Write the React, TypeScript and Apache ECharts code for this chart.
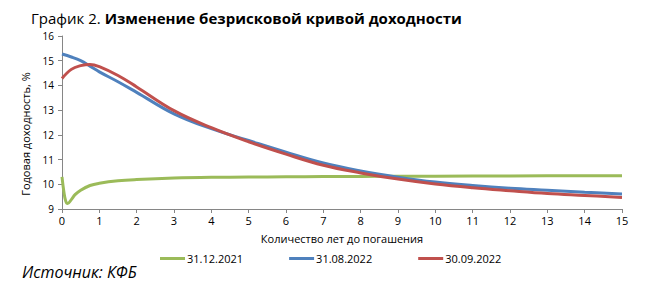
import React, { useEffect, useRef } from "react";
import * as echarts from "echarts";

const titleNormal = "График 2. ";
const titleBold = "Изменение безрисковой кривой доходности";
const sourceText = "Источник: КФБ";
const xAxisName = "Количество лет до погашения";
const yAxisName = "Годовая доходность, %";

const seriesNames = ["31.12.2021", "31.08.2022", "30.09.2022"];
const seriesColors = ["#9BBB59", "#4F81BD", "#C0504D"];

const tenors2021 = [0, 0.05, 0.1, 0.15, 0.25, 0.35, 0.5, 0.75, 1, 1.5, 2, 3, 4, 5, 6, 7, 8, 9, 10, 12, 15];
const yields2021 = [10.3, 9.7, 9.32, 9.22, 9.38, 9.58, 9.76, 9.95, 10.04, 10.14, 10.19, 10.25, 10.28, 10.29, 10.3, 10.31, 10.32, 10.33, 10.33, 10.34, 10.35];

const tenorsAug = [0, 0.25, 0.5, 0.75, 1, 1.5, 2, 3, 4, 5, 6, 7, 8, 9, 10, 11, 12, 13, 14, 15];
const yieldsAug = [15.27, 15.15, 15.0, 14.78, 14.55, 14.15, 13.72, 12.85, 12.25, 11.77, 11.3, 10.86, 10.54, 10.29, 10.09, 9.95, 9.84, 9.76, 9.68, 9.61];

const tenorsSep = [0, 0.25, 0.5, 0.75, 1, 1.5, 2, 3, 4, 5, 6, 7, 8, 9, 10, 11, 12, 13, 14, 15];
const yieldsSep = [14.28, 14.65, 14.8, 14.85, 14.76, 14.4, 13.94, 12.98, 12.29, 11.72, 11.22, 10.77, 10.46, 10.21, 10.01, 9.86, 9.74, 9.63, 9.55, 9.47];

const xTicks = [0, 15, 1];
const yTicks = [9, 16, 1];

function pairs(xs: number[], ys: number[]) {
  return xs.map((x, i) => [x, ys[i]]);
}

export default function App() {
  const ref = useRef<HTMLDivElement>(null);
  useEffect(() => {
    if (!ref.current) return;
    const chart = echarts.init(ref.current, null, { renderer: "svg" });
    const font = "'Open Sans', sans-serif";
    const datasets = [
      pairs(tenors2021, yields2021),
      pairs(tenorsAug, yieldsAug),
      pairs(tenorsSep, yieldsSep),
    ];
    chart.setOption({
      animation: false,
      backgroundColor: "#fff",
      textStyle: { fontFamily: font },
      title: {
        left: 26,
        top: 5,
        text: `{a|${titleNormal}}{b|${titleBold}}`,
        textStyle: {
          rich: {
            a: { fontSize: 15, fontFamily: font, fontWeight: "normal", color: "#000" },
            b: { fontSize: 15, fontFamily: font, fontWeight: "bold", color: "#000" },
          },
        },
      },
      graphic: [
        {
          type: "text",
          left: 22,
          top: 264,
          style: { text: sourceText, fontSize: 16, fontStyle: "italic", fontFamily: font, fill: "#000" },
        },
        {
          type: "text",
          x: 25,
          y: 134,
          rotation: Math.PI / 2,
          style: {
            text: yAxisName,
            fontSize: 11,
            fontFamily: font,
            fill: "#000",
            align: "center",
            verticalAlign: "middle",
          },
        },
      ],
      legend: {
        top: 248,
        left: 155,
        itemGap: 46,
        itemWidth: 25,
        itemHeight: 3,
        icon: "rect",
        textStyle: { fontSize: 11, color: "#000", fontFamily: font, padding: [0, 0, 0, -3] },
        data: seriesNames,
      },
      grid: { left: 62, right: 23, top: 36, bottom: 83 },
      xAxis: {
        type: "value",
        min: xTicks[0],
        max: xTicks[1],
        interval: xTicks[2],
        name: xAxisName,
        nameLocation: "middle",
        nameGap: 24,
        nameTextStyle: { fontSize: 11, color: "#000", fontFamily: font },
        axisLine: { lineStyle: { color: "#868686", width: 1 } },
        axisTick: { show: true, length: 4, lineStyle: { color: "#868686" } },
        axisLabel: { fontSize: 11, color: "#000", margin: 6, fontFamily: font },
        splitLine: { show: false },
      },
      yAxis: {
        type: "value",
        min: yTicks[0],
        max: yTicks[1],
        interval: yTicks[2],
        axisLine: { show: true, lineStyle: { color: "#868686", width: 1 } },
        axisTick: { show: true, length: 4, lineStyle: { color: "#868686" } },
        axisLabel: { fontSize: 10, color: "#000", margin: 8, fontFamily: font },
        splitLine: { show: false },
      },
      series: seriesNames.map((name, i) => ({
        name,
        type: "line",
        data: datasets[i],
        smooth: 0.4,
        showSymbol: false,
        symbol: "none",
        color: seriesColors[i],
        lineStyle: { width: 3, color: seriesColors[i] },
        z: i === 0 ? 2 : 3 + i,
      })),
    });
    return () => chart.dispose();
  }, []);
  return <div ref={ref} style={{ width: 645, height: 292, margin: -8 }} />;
}
